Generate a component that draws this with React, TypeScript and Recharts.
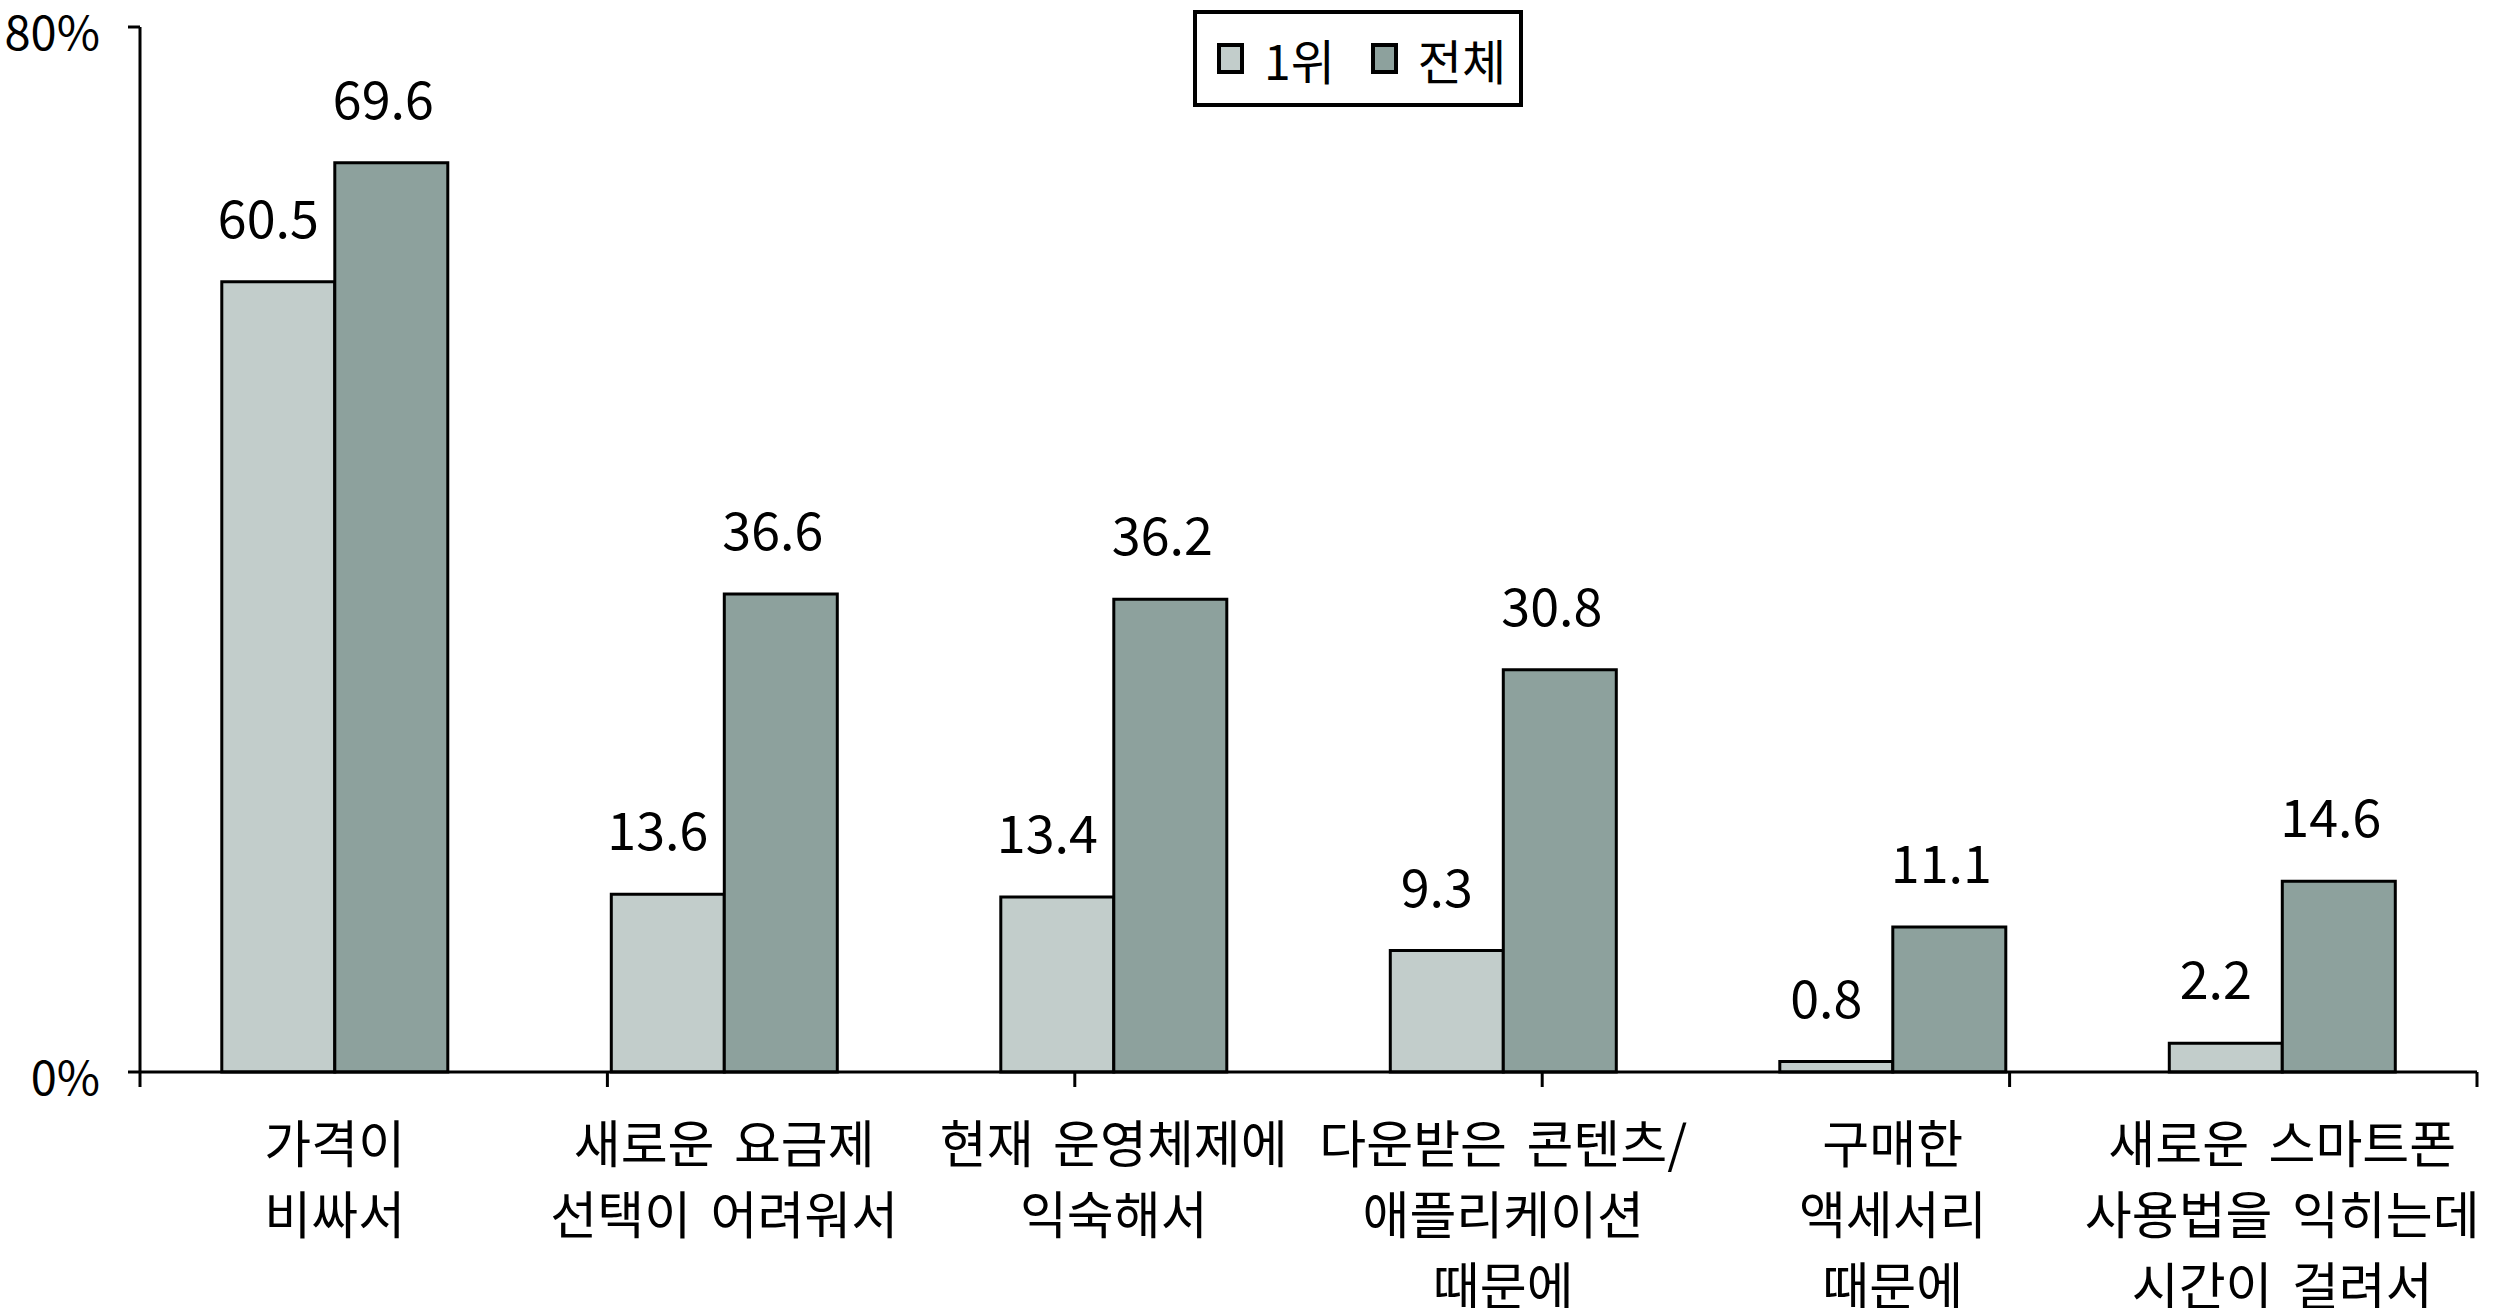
import React from 'react';
import { BarChart, Bar, XAxis, YAxis, LabelList } from 'recharts';

const categories = [
  '가격이\n비싸서',
  '새로운 요금제\n선택이 어려워서',
  '현재 운영체제에\n익숙해서',
  '다운받은 콘텐츠/\n애플리케이션\n때문에',
  '구매한\n액세서리\n때문에',
  '새로운 스마트폰\n사용법을 익히는데\n시간이 걸려서',
];
const rank1Values = [60.5, 13.6, 13.4, 9.3, 0.8, 2.2];
const totalValues = [69.6, 36.6, 36.2, 30.8, 11.1, 14.6];
const seriesNames = ['1위', '전체'];
const yTicks = [0, 80];
const boundaryTicks = [0, 1, 2, 3, 4, 5, 6];

const data = categories.map((name, i) => ({
  name,
  rank1: rank1Values[i],
  total: totalValues[i],
}));

const FONT = '"Noto Sans CJK KR", "Noto Sans", sans-serif';
const LIGHT = '#C2CDCB';
const DARK = '#8DA19D';
const seriesColors = [LIGHT, DARK];

const CategoryTick = (props: any) => {
  const { x, y, payload } = props;
  const lines = String(payload.value).split('\n');
  return (
    <text
      x={x}
      y={y}
      textAnchor="middle"
      fontFamily={FONT}
      fontSize={51}
      fill="#000"
      style={{ wordSpacing: '8px' }}
    >
      {lines.map((l, i) => (
        <tspan key={i} x={x} dy={i === 0 ? 90 : 71}>
          {l}
        </tspan>
      ))}
    </text>
  );
};

const LegendBox = () => (
  <div
    style={{
      position: 'absolute',
      left: 1193,
      top: 10,
      width: 330,
      height: 97,
      border: '4px solid #000',
      background: '#fff',
      display: 'flex',
      alignItems: 'center',
      paddingLeft: 20,
      boxSizing: 'border-box',
      fontFamily: FONT,
      fontSize: 48,
      color: '#000',
    }}
  >
    {seriesNames.map((n, i) => (
      <div key={i} style={{ display: 'flex', alignItems: 'center', marginRight: i === 0 ? 36 : 0 }}>
        <div
          style={{
            width: 27,
            height: 31,
            background: seriesColors[i],
            border: '4px solid #000',
            boxSizing: 'border-box',
            marginRight: 20,
          }}
        />
        <span style={{ lineHeight: '48px' }}>{n}</span>
      </div>
    ))}
  </div>
);

export default function App() {
  return (
    <div style={{ position: 'absolute', left: 0, top: 0, width: 2504, height: 1308, background: '#fff' }}>
      <BarChart
        width={2504}
        height={1308}
        data={data}
        margin={{ top: 27, right: 27, left: 0, bottom: 35 }}
        barCategoryGap="21%"
        barGap={0}
      >
        <XAxis
          xAxisId="bounds"
          type="number"
          domain={[0, 6]}
          ticks={boundaryTicks}
          allowDataOverflow
          height={1}
          tickSize={15}
          tickFormatter={() => ''}
          axisLine={{ stroke: '#000', strokeWidth: 3 }}
          tickLine={{ stroke: '#000', strokeWidth: 3 }}
        />
        <XAxis
          xAxisId="cat"
          dataKey="name"
          height={200}
          interval={0}
          axisLine={false}
          tickLine={false}
          tickSize={0}
          tickMargin={0}
          tick={<CategoryTick />}
        />
        <YAxis
          width={140}
          domain={[0, 80]}
          ticks={yTicks}
          interval={0}
          tickSize={12}
          tickMargin={28}
          tickFormatter={(v: number) => `${v}%`}
          axisLine={{ stroke: '#000', strokeWidth: 3 }}
          tickLine={{ stroke: '#000', strokeWidth: 3 }}
          tick={{ fill: '#000', fontSize: 47, fontFamily: FONT, dy: 6 }}
        />
        <Bar
          xAxisId="cat"
          dataKey="rank1"
          name={seriesNames[0]}
          fill={LIGHT}
          stroke="#000"
          strokeWidth={3}
          isAnimationActive={false}
        >
          <LabelList
            dataKey="rank1"
            position="top"
            offset={44}
            formatter={(v: number) => v.toFixed(1)}
            style={{ fill: '#000', fontSize: 52, fontFamily: FONT, transform: 'translateX(-10px)' }}
          />
        </Bar>
        <Bar
          xAxisId="cat"
          dataKey="total"
          name={seriesNames[1]}
          fill={DARK}
          stroke="#000"
          strokeWidth={3}
          isAnimationActive={false}
        >
          <LabelList
            dataKey="total"
            position="top"
            offset={44}
            formatter={(v: number) => v.toFixed(1)}
            style={{ fill: '#000', fontSize: 52, fontFamily: FONT, transform: 'translateX(-8px)' }}
          />
        </Bar>
      </BarChart>
      <LegendBox />
    </div>
  );
}
